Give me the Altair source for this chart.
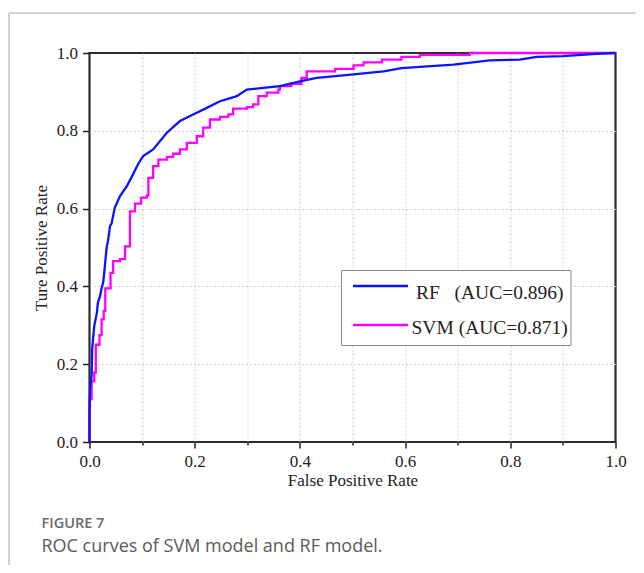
import altair as alt
import pandas as pd

# ---------------- data ----------------
MODELS = ["RF", "SVM"]
AUCS = [0.896, 0.871]
COLORS = ["#0a14ff", "#ff00ff"]

RF_FPR = [0.000, 0.000, 0.001, 0.004, 0.005, 0.009, 0.014, 0.016, 0.020, 0.023,
          0.026, 0.028, 0.031, 0.033, 0.035, 0.039, 0.042, 0.048, 0.058, 0.071,
          0.080, 0.093, 0.102, 0.121, 0.147, 0.172, 0.197, 0.223, 0.248, 0.280,
          0.299, 0.362, 0.400, 0.432, 0.502, 0.559, 0.593, 0.692, 0.761, 0.818,
          0.850, 0.900, 0.964, 1.000]
RF_TPR = [0.000, 0.066, 0.135, 0.170, 0.238, 0.298, 0.332, 0.358, 0.375, 0.396,
          0.410, 0.435, 0.478, 0.503, 0.515, 0.555, 0.562, 0.602, 0.632, 0.658,
          0.681, 0.716, 0.735, 0.752, 0.795, 0.825, 0.842, 0.859, 0.876, 0.889,
          0.906, 0.915, 0.927, 0.936, 0.945, 0.953, 0.961, 0.970, 0.981, 0.983,
          0.990, 0.992, 0.998, 1.000]

SVM_FPR = [0.000, 0.000, 0.004, 0.009, 0.012, 0.019, 0.023, 0.027, 0.030, 0.040,
           0.045, 0.058, 0.0675, 0.077, 0.0865, 0.098, 0.109, 0.112, 0.121, 0.131,
           0.147, 0.159, 0.172, 0.185, 0.204, 0.216, 0.229, 0.248, 0.264, 0.273,
           0.299, 0.311, 0.321, 0.337, 0.359, 0.362, 0.384, 0.403, 0.413, 0.467,
           0.502, 0.521, 0.556, 0.593, 0.628, 0.723, 1.000]
SVM_TPR = [0.000, 0.110, 0.156, 0.178, 0.250, 0.275, 0.315, 0.337, 0.395, 0.435,
           0.465, 0.470, 0.503, 0.593, 0.613, 0.628, 0.634, 0.679, 0.709, 0.726,
           0.733, 0.741, 0.752, 0.769, 0.786, 0.808, 0.829, 0.836, 0.842, 0.857,
           0.861, 0.868, 0.889, 0.898, 0.906, 0.915, 0.921, 0.936, 0.953, 0.959,
           0.968, 0.976, 0.983, 0.990, 0.995, 1.000, 1.000]

TICKS = [0.0, 0.1, 0.2, 0.3, 0.4, 0.5, 0.6, 0.7, 0.8, 0.9, 1.0]
X_TITLE = "False Positive Rate"
Y_TITLE = "Ture Positive Rate"
LEGEND_LABELS = ["RF\u00a0\u00a0\u00a0(AUC=0.896)", "SVM (AUC=0.871)"]
FIG_LABEL = "FIGURE 7"
CAPTION = "ROC curves of SVM model and RF model."

SERIF = "Liberation Serif"

# ---------------- tables ----------------
rf = pd.DataFrame({"fpr": RF_FPR, "tpr": RF_TPR, "model": MODELS[0]})
rf["idx"] = range(len(rf))
svm = pd.DataFrame({"fpr": SVM_FPR, "tpr": SVM_TPR, "model": MODELS[1]})
svm["idx"] = range(len(svm))

color_scale = alt.Scale(domain=MODELS, range=COLORS)
major = "round(datum.value * 10) % 2 == 0"
edge = "datum.value <= 0.001 || datum.value >= 0.999"


def make_axis(title, tick_major, label_pad, title_pad):
    return alt.Axis(
        values=TICKS, grid=True, gridDash=[2, 2], gridColor="#cfcfcf", gridWidth=1,
        gridOpacity={"condition": {"test": edge, "value": 0}, "value": 1},
        domain=False, tickColor="#222", tickWidth=1.5,
        tickSize={"condition": {"test": major, "value": tick_major}, "value": 3},
        labelExpr=f"{major} ? format(datum.value, '.1f') : ''",
        labelFlush=False, labelOverlap=False,
        labelFont=SERIF, labelFontSize=17, labelColor="#222", labelPadding=label_pad,
        title=title, titleFont=SERIF, titleFontSize=17, titleFontWeight="normal",
        titleColor="#222", titlePadding=title_pad,
    )


x_axis = make_axis(X_TITLE, 6, 5, 3)
y_axis = make_axis(Y_TITLE, 7, 5, 6)

xs = alt.Scale(domain=[0, 1], nice=False)
ys = alt.Scale(domain=[0, 1], nice=False)

svm_line = alt.Chart(svm).mark_line(strokeWidth=2.3, interpolate="step-after").encode(
    x=alt.X("fpr:Q", scale=xs, axis=x_axis),
    y=alt.Y("tpr:Q", scale=ys, axis=y_axis),
    color=alt.Color("model:N", scale=color_scale, legend=None),
    order="idx:Q",
)
rf_line = alt.Chart(rf).mark_line(strokeWidth=2.3).encode(
    x=alt.X("fpr:Q", scale=xs),
    y=alt.Y("tpr:Q", scale=ys),
    color=alt.Color("model:N", scale=color_scale, legend=None),
    order="idx:Q",
)

one = pd.DataFrame({"k": [0]})

# legend box
legend_box = alt.Chart(one).mark_rect(fill="white", stroke="#8a8a8a", strokeWidth=1).encode(
    x=alt.value(252), x2=alt.value(481.5), y=alt.value(217.5), y2=alt.value(292.5)
)
leg_layers = []
leg_rows = [(233, 326.5, 245.5), (272, 322, 280.5)]
for m, lab, (ly, tx, ty) in zip(MODELS, LEGEND_LABELS, leg_rows):
    d = pd.DataFrame({"model": [m], "label": [lab]})
    leg_layers.append(
        alt.Chart(d).mark_rule(strokeWidth=2.5).encode(
            x=alt.value(263.5), x2=alt.value(318.5), y=alt.value(ly),
            color=alt.Color("model:N", scale=color_scale, legend=None),
        )
    )
    leg_layers.append(
        alt.Chart(d).mark_text(font=SERIF, fontSize=19.5, color="#222", align="left",
                               baseline="alphabetic").encode(
            x=alt.value(tx), y=alt.value(ty), text="label:N"
        )
    )

# outer figure frame (light grey, top and left)
frame_top = alt.Chart(one).mark_rule(color="#d2d2d2", strokeWidth=2).encode(
    x=alt.value(-80.5), x2=alt.value(560), y=alt.value(-40)
)
frame_left = alt.Chart(one).mark_rule(color="#d2d2d2", strokeWidth=2).encode(
    x=alt.value(-80.5), y=alt.value(-40), y2=alt.value(520)
)

fig_label = alt.Chart(one).mark_text(font="Open Sans", fontSize=14.5, fontWeight=600,
                                     color="#6a6a6a", align="left", baseline="alphabetic").encode(
    x=alt.value(-48), y=alt.value(475), text=alt.value(FIG_LABEL)
)
caption = alt.Chart(one).mark_text(font="Open Sans", fontSize=18, color="#5a5a5a",
                                   align="left", baseline="alphabetic").encode(
    x=alt.value(-48), y=alt.value(499), text=alt.value(CAPTION)
)

chart = alt.layer(
    svm_line, rf_line, legend_box, *leg_layers, frame_top, frame_left, fig_label, caption
).properties(
    width=526, height=389,
    padding={"left": 81.5, "top": 45, "right": 20.5, "bottom": 123},
    autosize=alt.AutoSizeParams(type="none"),
).configure_view(stroke="#2b2b2b", strokeWidth=2.2)

chart.save("out.html", embed_options={"renderer": "svg", "actions": False})
